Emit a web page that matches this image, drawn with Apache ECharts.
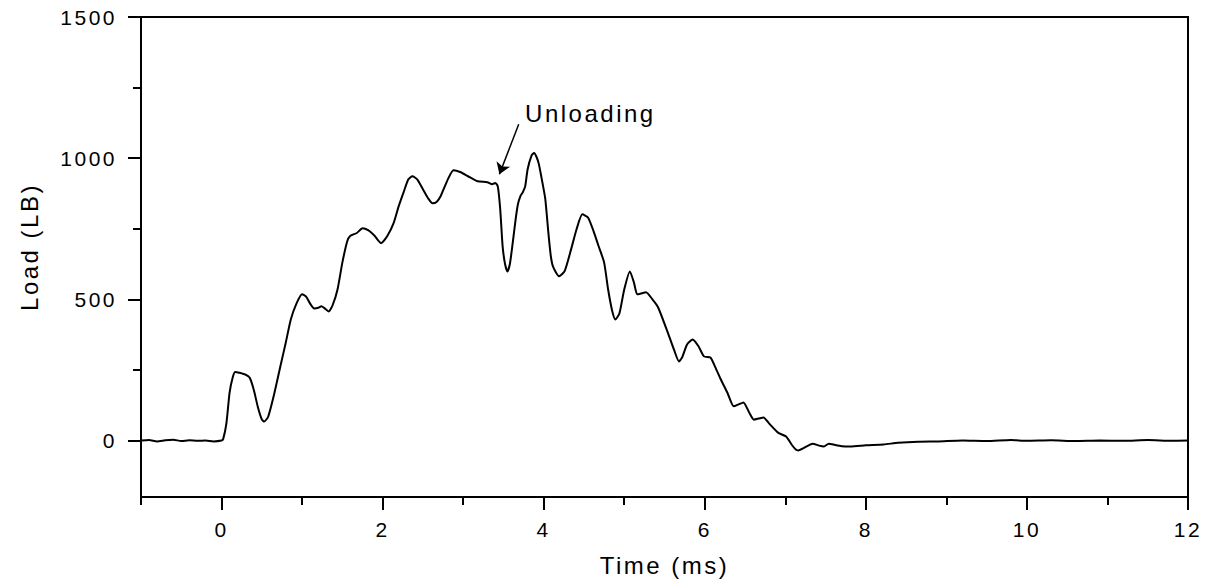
<!DOCTYPE html>
<html>
<head>
<meta charset="utf-8">
<title>Load vs Time</title>
<script src="https://cdn.jsdelivr.net/npm/echarts@6.0.0/dist/echarts.min.js"></script>
<style>
  html, body { margin: 0; padding: 0; background: #fff; }
  #chart { width: 1212px; height: 586px; }
  /* the original plot has spaced-out lettering */
  #chart text { letter-spacing: 2.5px; }
</style>
</head>
<body>
<div id="chart"></div>
<script>
// time (ms) and load (LB)
const timeMs = [
  -1, -0.9, -0.8, -0.7, -0.6, -0.5, -0.4, -0.3, -0.2, -0.1, 0, 0.02,
  0.06, 0.1, 0.14, 0.17, 0.22, 0.3, 0.35, 0.4, 0.45, 0.5, 0.53, 0.58,
  0.65, 0.73, 0.8, 0.86, 0.93, 1.0, 1.05, 1.1, 1.15, 1.2, 1.24, 1.28,
  1.33, 1.38, 1.44, 1.5, 1.56, 1.6, 1.68, 1.75, 1.82, 1.9, 1.98, 2.06,
  2.14, 2.2, 2.26, 2.32, 2.37, 2.43, 2.5, 2.56, 2.62, 2.67, 2.72, 2.81,
  2.88, 2.97, 3.06, 3.18, 3.3, 3.36, 3.4, 3.43, 3.46, 3.49, 3.52, 3.55,
  3.58, 3.61, 3.65, 3.68, 3.71, 3.74, 3.77, 3.8, 3.85, 3.88, 3.91, 3.94,
  3.98, 4.02, 4.06, 4.09, 4.12, 4.19, 4.26, 4.34, 4.41, 4.48, 4.55, 4.62,
  4.68, 4.75, 4.8, 4.85, 4.89, 4.94, 5.0, 5.07, 5.12, 5.16, 5.2, 5.27,
  5.35, 5.42, 5.54, 5.62, 5.68, 5.72, 5.78, 5.85, 5.92, 5.99, 6.07, 6.13,
  6.2, 6.28, 6.36, 6.42, 6.48, 6.55, 6.61, 6.67, 6.73, 6.8, 6.91, 7.01,
  7.08, 7.13, 7.16, 7.22, 7.34, 7.42, 7.48, 7.54, 7.62, 7.7, 7.81, 8.0,
  8.22, 8.4, 8.65, 8.9, 9.2, 9.5, 9.8, 10.0, 10.3, 10.6, 10.9, 11.2,
  11.5, 11.8, 12.0
]
const loadLb = [
  0, 2, -3, 1, 3, -2, 1, -1, 0, -3, 0, 5,
  60, 170, 225, 243, 240, 233, 222, 180, 120, 75, 67, 85,
  160, 262, 350, 429, 485, 518, 510, 485, 468, 470, 476, 468,
  457, 480, 535, 630, 705, 725, 735, 752, 745, 725, 699, 725,
  773, 830, 879, 925, 936, 925, 890, 860, 840, 845, 865, 925,
  957, 950, 936, 918, 915, 908, 912, 900, 820, 688, 625, 599,
  625, 688, 780, 837, 865, 879, 900, 960, 1010, 1018, 1005, 979,
  920, 855, 730, 650, 613, 582, 600, 677, 750, 801, 790, 741,
  690, 631, 535, 460, 429, 450, 535, 599, 560, 518, 520, 525,
  500, 472, 383, 320, 280, 295, 340, 358, 335, 298, 294, 260,
  216, 170, 121, 128, 135, 100, 74, 78, 82, 60, 28, 14,
  -15, -32, -35, -28, -11, -18, -21, -11, -16, -20, -21, -17,
  -14, -8, -4, -3, 0, -2, 2, -1, 1, -2, 0, -1,
  2, -1, 0
]

// tick values
const xLabels = [0, 2, 4, 6, 8, 10, 12]
const xMinorTicks = [-1, 1, 3, 5, 7, 9, 11]
const yLabels = [0, 500, 1000, 1500]
const yMinorTicks = [250, 750, 1250]

// annotation
const annotText = 'Unloading'
const annotAt = [4.58, 1160]
const arrowFrom = [3.69, 1120]
const arrowTo = [3.45, 943]

const font = '"Liberation Sans", Arial, sans-serif'
const black = '#000'

const chart = echarts.init(document.getElementById('chart'), null, { renderer: 'svg' })

const seriesData = timeMs.map((t, i) => [t, loadLb[i]])

// extra axis that only draws a set of ticks (major or minor)
function tickAxis(pos, values, len) {
  const isX = pos === 'bottom'
  return {
    type: 'value',
    min: isX ? -1 : -200,
    max: isX ? 12 : 1500,
    interval: isX ? 1 : 50,
    position: pos,
    axisLine: { show: false, onZero: false },
    axisTick: {
      show: true,
      length: len,
      customValues: values,
      lineStyle: { color: black, width: 2 }
    },
    axisLabel: { show: false },
    splitLine: { show: false }
  }
}

chart.setOption({
  animation: false,
  backgroundColor: '#fff',
  grid: {
    left: 141,
    right: 24,
    top: 17,
    bottom: 89,
    show: true,
    borderColor: black,
    borderWidth: 2
  },
  xAxis: [{
    type: 'value',
    min: -1,
    max: 12,
    interval: 1,
    position: 'bottom',
    name: 'Time (ms)',
    nameLocation: 'middle',
    nameGap: 56,
    nameTextStyle: { color: black, fontSize: 24, fontFamily: font },
    axisLine: { show: true, onZero: false, lineStyle: { color: black, width: 2 } },
    axisTick: { show: false },
    axisLabel: {
      customValues: xLabels,
      margin: 22,
      color: black,
      fontSize: 21,
      fontFamily: font,
      formatter: v => String(v)
    },
    splitLine: { show: false }
  }, tickAxis('bottom', xLabels, 13), tickAxis('bottom', xMinorTicks, 8)],
  yAxis: [{
    type: 'value',
    min: -200,
    max: 1500,
    interval: 50,
    position: 'left',
    name: 'Load (LB)',
    nameLocation: 'middle',
    nameGap: 100,
    nameTextStyle: { color: black, fontSize: 24, fontFamily: font, padding: [0, 0, 0, 20] },
    axisLine: { show: true, onZero: false, lineStyle: { color: black, width: 2 } },
    axisTick: { show: false },
    axisLabel: {
      customValues: yLabels,
      margin: 24,
      color: black,
      fontSize: 21,
      fontFamily: font,
      formatter: v => String(v)
    },
    splitLine: { show: false }
  }, tickAxis('left', yLabels, 13), tickAxis('left', yMinorTicks, 8)],
  series: [{
    name: 'Load',
    type: 'line',
    data: seriesData,
    showSymbol: false,
    smooth: 0.2,
    lineStyle: { color: black, width: 2 },
    markLine: {
      silent: true,
      symbol: ['none', 'arrow'],
      symbolSize: 11,
      lineStyle: { color: black, width: 1.5, type: 'solid' },
      label: { show: false },
      data: [[{ coord: arrowFrom }, { coord: arrowTo }]]
    },
    markPoint: {
      silent: true,
      symbol: 'circle',
      symbolSize: 0,
      label: {
        show: true,
        position: 'inside',
        formatter: annotText,
        color: black,
        fontSize: 24,
        fontFamily: font
      },
      data: [{ coord: annotAt }]
    }
  }]
})
</script>
</body>
</html>
